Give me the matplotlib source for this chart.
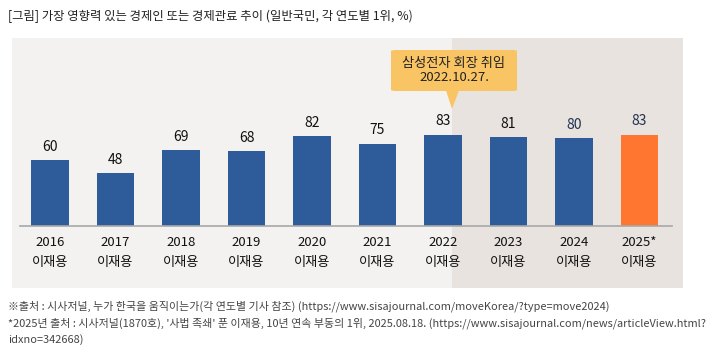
import numpy as np
import matplotlib
matplotlib.use("Agg")
import matplotlib.pyplot as plt
from matplotlib.patches import Rectangle, FancyBboxPatch, Polygon

plt.rcParams["font.family"] = ["Noto Sans CJK KR", "DejaVu Sans"]

years = ["2016", "2017", "2018", "2019", "2020", "2021", "2022", "2023", "2024", "2025*"]
names = ["이재용"] * 10
values = [60, 48, 69, 68, 82, 75, 83, 81, 80, 83]
highlight = "2025*"

C_BAR, C_HI = "#2e5b9a", "#fe7630"
C_BG1, C_BG2 = "#f3f2f1", "#e8e3df"

fig = plt.figure(figsize=(7.25, 3.6), dpi=100)
W, H = 725, 360

# panel in pixel coords: x 12..683, y 38..288
px0, px1, py0, py1 = 12, 683, 38, 288
ax = fig.add_axes([px0 / W, 1 - py1 / H, (px1 - px0) / W, (py1 - py0) / H])
step, c0 = 65.5, 50
xl, xr = (px0 - c0) / step, (px1 - c0) / step
base, sc = 226, 1.096
yb, yt = -(py1 - base) / sc, (base - py0) / sc
ax.set_xlim(xl, xr)
ax.set_ylim(yb, yt)
ax.axis("off")

xs = np.arange(len(years))
split = (452 - c0) / step
ax.add_patch(Rectangle((xl, yb), split - xl, yt - yb, fc=C_BG1, ec="none", zorder=0))
ax.add_patch(Rectangle((split, yb), xr - split, yt - yb, fc=C_BG2, ec="none", zorder=0))

colors = [C_HI if y == highlight else C_BAR for y in years]
ax.bar(xs, values, width=0.565, color=colors, zorder=2)
ax.plot([(20 - c0) / step, (672 - c0) / step], [0, 0], color="#a8a8a8", lw=1.2, zorder=3)

for x, v, y in zip(xs, values, years):
    tc = "#1f3350" if x >= 8 else "#111111"
    ax.text(x, v + 6, str(v), ha="center", va="bottom", fontsize=10, color=tc, zorder=4)
    ax.text(x, -15, y, ha="center", va="center", fontsize=9.5, color="#111111")
    ax.text(x, -33, names[x], ha="center", va="center", fontsize=9.5, color="#111111")

# callout
bx0, bx1 = (391 - c0) / step, (517 - c0) / step
by0, by1 = (base - 91) / sc, (base - 50) / sc
ax.add_patch(FancyBboxPatch((bx0, by0), bx1 - bx0, by1 - by0,
                            boxstyle="round,pad=0,rounding_size=0.08",
                            fc="#f9c564", ec="none", zorder=5,
                            mutation_aspect=12))
tip_x, tip_y = (452 - c0) / step, (base - 109) / sc
ax.add_patch(Polygon([[(446 - c0) / step, by0 + 0.5], [(459 - c0) / step, by0 + 0.5],
                      [tip_x, tip_y]], closed=True, fc="#f9c564", ec="none", zorder=5))
ax.text((bx0 + bx1) / 2, (by0 + by1) / 2, "삼성전자 회장 취임\n2022.10.27.",
        ha="center", va="center", fontsize=9.5, color="#222222", zorder=6,
        linespacing=1.15)

fig.text(8 / W, 1 - 16 / H, "[그림] 가장 영향력 있는 경제인 또는 경제관료 추이 (일반국민, 각 연도별 1위, %)",
         ha="left", va="center", fontsize=8.9, color="#222222")

notes = ["※출처 : 시사저널, 누가 한국을 움직이는가(각 연도별 기사 참조) (https://www.sisajournal.com/moveKorea/?type=move2024)",
         "*2025년 출처 : 시사저널(1870호), '사법 족쇄' 푼 이재용, 10년 연속 부동의 1위, 2025.08.18. (https://www.sisajournal.com/news/articleView.html?",
         "idxno=342668)"]
for i, n in enumerate(notes):
    fig.text(8 / W, 1 - (306 + i * 17) / H, n, ha="left", va="center",
             fontsize=7.9, color="#444444")

fig.savefig("out.png", dpi=100, facecolor="white")
